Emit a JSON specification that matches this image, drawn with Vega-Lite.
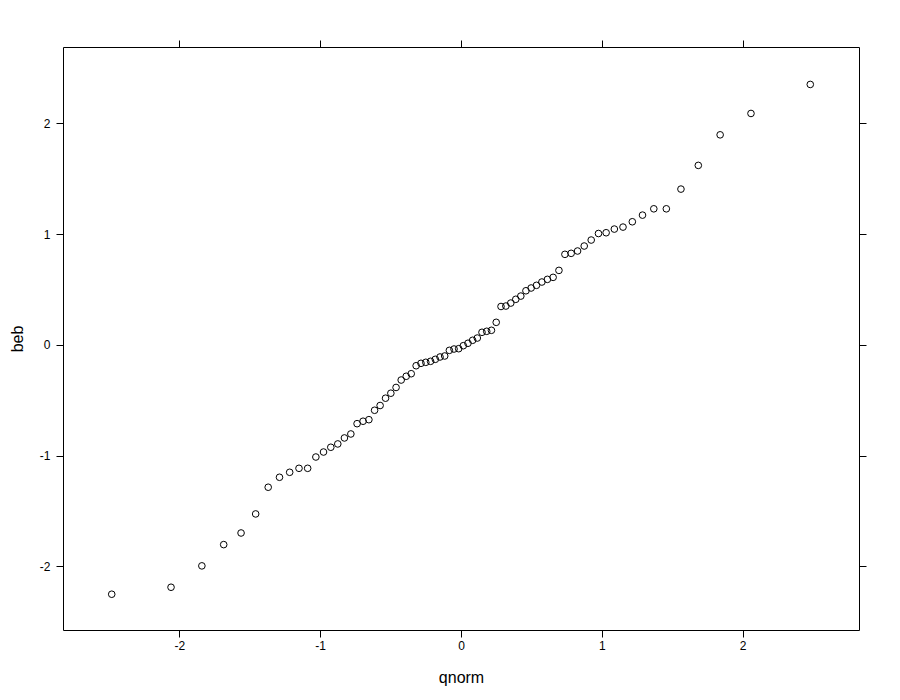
{
  "$schema": "https://vega.github.io/schema/vega-lite/v6.json",
  "width": 796,
  "height": 583,
  "autosize": {"type": "none"},
  "padding": {"left": 63, "top": 47, "right": 41, "bottom": 70},
  "background": "white",
  "config": {
    "view": {"stroke": "black", "strokeWidth": 1},
    "font": "Liberation Sans",
    "axis": {
      "domain": false,
      "grid": false,
      "ticks": true,
      "tickColor": "black",
      "tickSize": 7,
      "tickWidth": 1,
      "labelColor": "black",
      "labelFont": "Liberation Sans",
      "labelFontSize": 12,
      "titleColor": "black",
      "titleFont": "Liberation Sans",
      "titleFontSize": 16,
      "titleFontWeight": "normal"
    }
  },
  "data": {
    "values": [
      {"qnorm": -2.48, "beb": -2.252},
      {"qnorm": -2.059, "beb": -2.189},
      {"qnorm": -1.84, "beb": -1.996},
      {"qnorm": -1.685, "beb": -1.804},
      {"qnorm": -1.5617, "beb": -1.699},
      {"qnorm": -1.458, "beb": -1.527},
      {"qnorm": -1.369, "beb": -1.286},
      {"qnorm": -1.2888, "beb": -1.196},
      {"qnorm": -1.2165, "beb": -1.151},
      {"qnorm": -1.1503, "beb": -1.115},
      {"qnorm": -1.0888, "beb": -1.115},
      {"qnorm": -1.0305, "beb": -1.013},
      {"qnorm": -0.9762, "beb": -0.968},
      {"qnorm": -0.9245, "beb": -0.925},
      {"qnorm": -0.8749, "beb": -0.895},
      {"qnorm": -0.8277, "beb": -0.841},
      {"qnorm": -0.7821, "beb": -0.805},
      {"qnorm": -0.7379, "beb": -0.712},
      {"qnorm": -0.6954, "beb": -0.69},
      {"qnorm": -0.654, "beb": -0.676},
      {"qnorm": -0.6136, "beb": -0.591},
      {"qnorm": -0.5743, "beb": -0.548},
      {"qnorm": -0.5358, "beb": -0.482},
      {"qnorm": -0.4981, "beb": -0.437},
      {"qnorm": -0.4611, "beb": -0.385},
      {"qnorm": -0.4247, "beb": -0.318},
      {"qnorm": -0.3889, "beb": -0.284},
      {"qnorm": -0.3535, "beb": -0.261},
      {"qnorm": -0.3186, "beb": -0.189},
      {"qnorm": -0.2841, "beb": -0.167},
      {"qnorm": -0.25, "beb": -0.158},
      {"qnorm": -0.2161, "beb": -0.149},
      {"qnorm": -0.1824, "beb": -0.131},
      {"qnorm": -0.149, "beb": -0.11},
      {"qnorm": -0.1157, "beb": -0.101},
      {"qnorm": -0.0826, "beb": -0.05},
      {"qnorm": -0.0495, "beb": -0.038},
      {"qnorm": -0.0165, "beb": -0.035},
      {"qnorm": 0.0165, "beb": -0.008},
      {"qnorm": 0.0495, "beb": 0.014},
      {"qnorm": 0.0826, "beb": 0.041},
      {"qnorm": 0.1157, "beb": 0.061},
      {"qnorm": 0.149, "beb": 0.113},
      {"qnorm": 0.1824, "beb": 0.122},
      {"qnorm": 0.2161, "beb": 0.131},
      {"qnorm": 0.25, "beb": 0.203},
      {"qnorm": 0.2841, "beb": 0.346},
      {"qnorm": 0.3186, "beb": 0.35},
      {"qnorm": 0.3535, "beb": 0.377},
      {"qnorm": 0.3889, "beb": 0.411},
      {"qnorm": 0.4247, "beb": 0.44},
      {"qnorm": 0.4611, "beb": 0.488},
      {"qnorm": 0.4981, "beb": 0.513},
      {"qnorm": 0.5358, "beb": 0.537},
      {"qnorm": 0.5743, "beb": 0.567},
      {"qnorm": 0.6136, "beb": 0.591},
      {"qnorm": 0.654, "beb": 0.609},
      {"qnorm": 0.6954, "beb": 0.672},
      {"qnorm": 0.7379, "beb": 0.817},
      {"qnorm": 0.7821, "beb": 0.826},
      {"qnorm": 0.8277, "beb": 0.847},
      {"qnorm": 0.8749, "beb": 0.892},
      {"qnorm": 0.9245, "beb": 0.946},
      {"qnorm": 0.9762, "beb": 1.005},
      {"qnorm": 1.0305, "beb": 1.012},
      {"qnorm": 1.0888, "beb": 1.045},
      {"qnorm": 1.1503, "beb": 1.063},
      {"qnorm": 1.2165, "beb": 1.111},
      {"qnorm": 1.2888, "beb": 1.171},
      {"qnorm": 1.369, "beb": 1.228},
      {"qnorm": 1.458, "beb": 1.228},
      {"qnorm": 1.5617, "beb": 1.406},
      {"qnorm": 1.685, "beb": 1.62},
      {"qnorm": 1.84, "beb": 1.896},
      {"qnorm": 2.059, "beb": 2.089},
      {"qnorm": 2.48, "beb": 2.351}
    ]
  },
  "layer": [
    {
      "mark": {"type": "point", "shape": "circle", "filled": false, "stroke": "black", "strokeWidth": 1, "size": 44, "opacity": 1},
      "encoding": {
        "x": {
          "field": "qnorm", "type": "quantitative",
          "scale": {"domain": [-2.826, 2.826], "nice": false, "zero": false},
          "axis": {"orient": "bottom", "values": [-2, -1, 0, 1, 2], "title": "qnorm", "labelPadding": 3, "titlePadding": 18, "labelExpr": "replace(datum.label, '\u2212', '-')"}
        },
        "y": {
          "field": "beb", "type": "quantitative",
          "scale": {"domain": [-2.575, 2.689], "nice": false, "zero": false},
          "axis": {"orient": "left", "values": [-2, -1, 0, 1, 2], "title": "beb", "labelPadding": 6, "titlePadding": 14, "labelExpr": "replace(datum.label, '\u2212', '-')"}
        }
      }
    },
    {
      "mark": {"type": "point", "opacity": 0},
      "encoding": {
        "x": {
          "field": "qnorm", "type": "quantitative",
          "axis": {"orient": "top", "values": [-2, -1, 0, 1, 2], "labels": false, "title": null}
        },
        "y": {
          "field": "beb", "type": "quantitative",
          "axis": {"orient": "right", "values": [-2, -1, 0, 1, 2], "labels": false, "title": null}
        }
      }
    }
  ],
  "resolve": {"axis": {"x": "independent", "y": "independent"}}
}
